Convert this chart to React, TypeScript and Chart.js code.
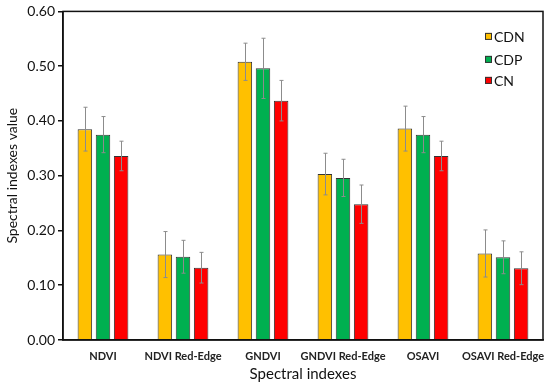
import React, { useEffect, useRef } from "react";
import { Chart, registerables } from "chart.js";

Chart.register(...registerables);

const categories = ["NDVI", "NDVI Red-Edge", "GNDVI", "GNDVI Red-Edge", "OSAVI", "OSAVI Red-Edge"];
const seriesNames = ["CDN", "CDP", "CN"];
const cdnValues = [0.385, 0.156, 0.508, 0.303, 0.386, 0.158];
const cdpValues = [0.375, 0.152, 0.496, 0.296, 0.375, 0.151];
const cnValues = [0.336, 0.132, 0.437, 0.248, 0.336, 0.131];
const cdnErrors = [0.04, 0.042, 0.034, 0.038, 0.041, 0.043];
const cdpErrors = [0.033, 0.03, 0.055, 0.034, 0.033, 0.03];
const cnErrors = [0.027, 0.028, 0.037, 0.035, 0.027, 0.03];
const yTicks = [0, 0.1, 0.2, 0.3, 0.4, 0.5, 0.6];
const colors = ["#FFC000", "#00B050", "#FF0000"];

const FONT = "Lato, 'Open Sans', sans-serif";

const errorBarPlugin = {
  id: "errorBars",
  afterDatasetsDraw(chart: any) {
    const ctx = chart.ctx;
    const y = chart.scales.y;
    const errs = [cdnErrors, cdpErrors, cnErrors];
    ctx.save();
    ctx.strokeStyle = "#8c8c8c";
    ctx.lineWidth = 1;
    chart.data.datasets.forEach((ds: any, i: number) => {
      const meta = chart.getDatasetMeta(i);
      meta.data.forEach((bar: any, j: number) => {
        const v = ds.data[j];
        const e = errs[i][j];
        const x = Math.round(bar.x) + 0.5;
        const yt = y.getPixelForValue(v + e);
        const yb = y.getPixelForValue(v - e);
        ctx.beginPath();
        ctx.moveTo(x, yt);
        ctx.lineTo(x, yb);
        ctx.moveTo(x - 2, yt);
        ctx.lineTo(x + 2, yt);
        ctx.moveTo(x - 2, yb);
        ctx.lineTo(x + 2, yb);
        ctx.stroke();
      });
    });
    ctx.restore();
  },
};

const framePlugin = {
  id: "frame",
  afterDraw(chart: any) {
    const { ctx, chartArea } = chart;
    ctx.save();
    ctx.strokeStyle = "#111";
    ctx.lineWidth = 1.5;
    ctx.strokeRect(chartArea.left, chartArea.top, chartArea.right - chartArea.left, chartArea.bottom - chartArea.top);
    // legend
    const lx = chartArea.right - 58;
    const ys = [chartArea.top + 25, chartArea.top + 48, chartArea.top + 69];
    ctx.font = `14px ${FONT}`;
    ctx.textBaseline = "middle";
    seriesNames.forEach((name, i) => {
      ctx.fillStyle = colors[i];
      ctx.fillRect(lx, ys[i] - 3.5, 7, 7);
      ctx.strokeStyle = "#333";
      ctx.lineWidth = 1;
      ctx.strokeRect(lx + 0.5, ys[i] - 3, 6, 6);
      ctx.fillStyle = "#111";
      ctx.fillText(name, lx + 9, ys[i] + 1);
    });
    ctx.restore();
  },
};

export default function App() {
  const ref = useRef<HTMLCanvasElement>(null);
  useEffect(() => {
    if (!ref.current) return;
    const chart = new Chart(ref.current, {
      type: "bar",
      data: {
        labels: categories,
        datasets: [cdnValues, cdpValues, cnValues].map((d, i) => ({
          label: seriesNames[i],
          data: d,
          backgroundColor: colors[i],
          borderColor: "#333",
          borderWidth: 1,
          categoryPercentage: 0.68,
          barPercentage: 0.8,
        })),
      },
      options: {
        animation: false,
        responsive: false,
        maintainAspectRatio: false,
        layout: { padding: { top: 11, right: 7, left: 0, bottom: 0 } },
        plugins: { legend: { display: false }, tooltip: { enabled: false } },
        scales: {
          x: {
            grid: { display: false },
            border: { display: true, color: "#111", width: 1.5 },
            ticks: {
              color: "#222",
              font: { family: FONT, size: 11, weight: "bold" },
              padding: 2,
              maxRotation: 0,
              minRotation: 0,
              autoSkip: false,
            },
            title: { display: true, text: "Spectral indexes", color: "#111", font: { family: FONT, size: 15 }, padding: { top: 3 } },
            afterFit(scale: any) {
              scale.height = 47;
            },
          },
          y: {
            min: 0,
            max: 0.6,
            afterBuildTicks(scale: any) {
              scale.ticks = yTicks.map((v) => ({ value: v }));
            },
            grid: { display: true, drawOnChartArea: false, drawTicks: true, tickLength: 5, color: "#111", lineWidth: 1.5 },
            border: { display: true, color: "#111", width: 1.5 },
            ticks: {
              color: "#111",
              font: { family: FONT, size: 14 },
              padding: 3,
              callback: (v: any) => Number(v).toFixed(2),
            },
            title: { display: true, text: "Spectral indexes value", color: "#111", font: { family: FONT, size: 14 }, padding: { bottom: 2 } },
            afterFit(scale: any) {
              scale.width = 63;
            },
          },
        },
      },
      plugins: [errorBarPlugin, framePlugin],
    });
    return () => chart.destroy();
  }, []);
  return (
    <div style={{ position: "fixed", left: 0, top: 0, width: 550, height: 387, background: "#fff" }}>
      <canvas ref={ref} width={550} height={387} style={{ width: 550, height: 387 }} />
    </div>
  );
}
